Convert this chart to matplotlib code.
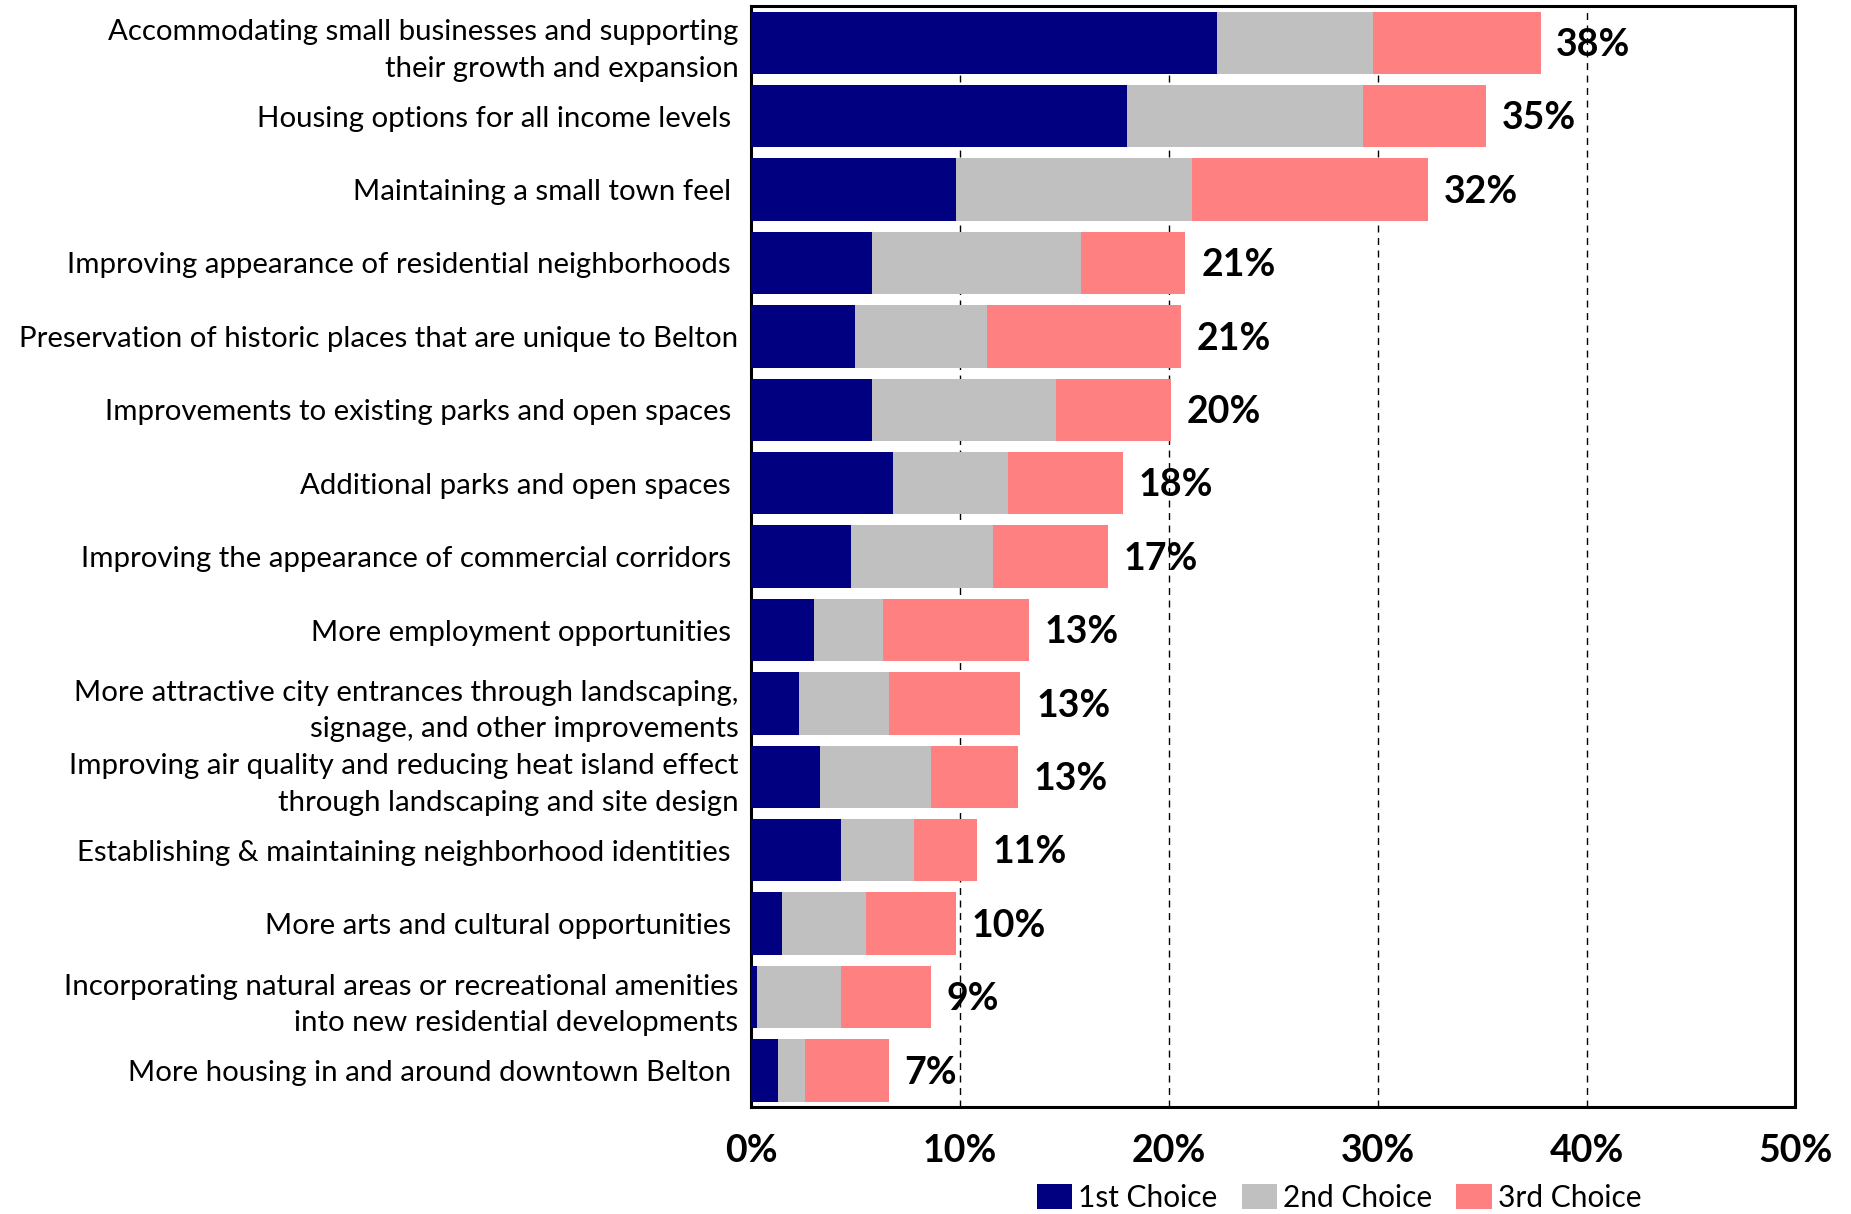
import matplotlib
matplotlib.use("Agg")
import matplotlib.pyplot as plt
import numpy as np

# --- datos ---
categories = [
    "Accommodating small businesses and supporting\ntheir growth and expansion",
    "Housing options for all income levels ",
    "Maintaining a small town feel ",
    "Improving appearance of residential neighborhoods ",
    "Preservation of historic places that are unique to Belton",
    "Improvements to existing parks and open spaces ",
    "Additional parks and open spaces ",
    "Improving the appearance of commercial corridors ",
    "More employment opportunities ",
    "More attractive city entrances through landscaping,\nsignage, and other improvements",
    "Improving air quality and reducing heat island effect\nthrough landscaping and site design",
    "Establishing & maintaining neighborhood identities ",
    "More arts and cultural opportunities ",
    "Incorporating natural areas or recreational amenities\ninto new residential developments",
    "More housing in and around downtown Belton ",
]
first_choice = [22.3, 18.0, 9.8, 5.8, 5.0, 5.8, 6.8, 4.8, 3.0, 2.3, 3.3, 4.3, 1.5, 0.3, 1.3]
second_choice = [7.5, 11.3, 11.3, 10.0, 6.3, 8.8, 5.5, 6.8, 3.3, 4.3, 5.3, 3.5, 4.0, 4.0, 1.3]
third_choice = [8.0, 5.9, 11.3, 5.0, 9.3, 5.5, 5.5, 5.5, 7.0, 6.3, 4.2, 3.0, 4.3, 4.3, 4.0]
totals = [38, 35, 32, 21, 21, 20, 18, 17, 13, 13, 13, 11, 10, 9, 7]
series_names = ["1st Choice", "2nd Choice", "3rd Choice"]
xticks = [0, 10, 20, 30, 40, 50]

# Lato, lo más parecido a Calibri que hay
plt.rcParams["font.family"] = ["Lato", "DejaVu Sans"]

fig = plt.figure(figsize=(18.51, 12.14), dpi=100)
ax = fig.add_axes([0.4057, 0.088, 0.5643, 0.907])

y = np.arange(len(categories))
first = np.array(first_choice)
second = np.array(second_choice)
third = np.array(third_choice)

ax.barh(y, first, height=0.85, color="#000080", label=series_names[0], zorder=3)
ax.barh(y, second, left=first, height=0.85, color="#C0C0C0", label=series_names[1], zorder=3)
ax.barh(y, third, left=first + second, height=0.85, color="#FF8080", label=series_names[2], zorder=3)

ends = first + second + third
for yi, xe, tot in zip(y, ends, totals):
    ax.text(xe + 0.75, yi + 0.03, f"{tot}%", va="center", ha="left",
            fontsize=27, fontweight="bold", color="k")

ax.set_xlim(0, 50)
ax.set_ylim(len(categories) - 0.5, -0.5)
ax.set_yticks(y)
ax.set_yticklabels(categories, fontsize=21.2, linespacing=1.5)
ax.set_xticks(xticks)
ax.set_xticklabels([f"{v}%" for v in xticks], fontsize=27, fontweight="bold")
ax.tick_params(axis="y", length=0, pad=9)
ax.tick_params(axis="x", length=0, pad=19)

ax.grid(axis="x", color="k", linestyle=(0, (5, 4)), linewidth=1.0, zorder=0)
for s in ax.spines.values():
    s.set_linewidth(2.2)
    s.set_color("k")

fig.legend(loc="lower center", bbox_to_anchor=(0.7235, -0.008), ncol=3, frameon=False,
           fontsize=21.5, handlelength=1.2, handleheight=0.9, handletextpad=0.2,
           columnspacing=0.8, borderaxespad=0.0)

fig.savefig("out.png", dpi=100)
